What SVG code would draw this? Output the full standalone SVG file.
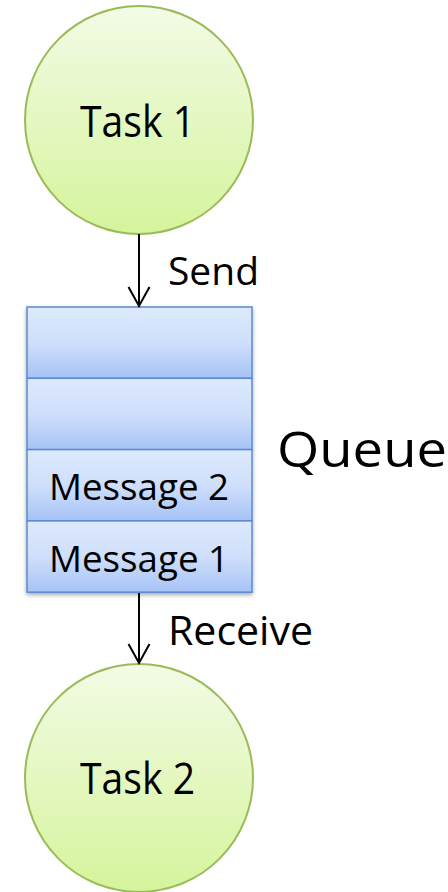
<svg xmlns="http://www.w3.org/2000/svg" width="448" height="892" viewBox="0 0 448 892">
  <defs>
    <linearGradient id="taskFill" x1="0" y1="0" x2="0" y2="1">
      <stop offset="0" stop-color="#f3fbe6"/>
      <stop offset="1" stop-color="#d5f49c"/>
    </linearGradient>
    <linearGradient id="slotFill" x1="0" y1="0" x2="0" y2="1">
      <stop offset="0" stop-color="#dde9fd"/>
      <stop offset="0.5" stop-color="#cfdffb"/>
      <stop offset="1" stop-color="#a6c3f6"/>
    </linearGradient>
    <filter id="shadow" x="-10%" y="-10%" width="120%" height="120%">
      <feGaussianBlur in="SourceAlpha" stdDeviation="2"/>
      <feOffset dx="0" dy="2" result="b"/>
      <feComponentTransfer><feFuncA type="linear" slope="0.35"/></feComponentTransfer>
      <feMerge><feMergeNode/><feMergeNode in="SourceGraphic"/></feMerge>
    </filter>
    <marker id="open" markerWidth="24" markerHeight="24" refX="21" refY="12" orient="auto" markerUnits="userSpaceOnUse">
      <path d="M2,1.5 L21,12 L2,22.5" fill="none" stroke="#000" stroke-width="2"/>
    </marker>
  </defs>
  <style>
    .task { fill: url(#taskFill); stroke: #9bbb59; stroke-width: 2; }
    .slot { fill: url(#slotFill); stroke: #5b8bd0; stroke-width: 1.5; }
    .lbl { font-family: "Open Sans", "DejaVu Sans", sans-serif; fill: #000; }
    .edge { stroke: #000; stroke-width: 2; fill: none; marker-end: url(#open); }
  </style>

  <g id="task1">
    <circle class="task" cx="139" cy="120" r="114"/>
    <text class="lbl" x="137.5" y="137" font-size="44" text-anchor="middle" textLength="115" lengthAdjust="spacingAndGlyphs">Task 1</text>
  </g>

  <g id="queue" filter="url(#shadow)">
    <rect class="slot" x="27" y="307" width="225" height="71.3"/>
    <rect class="slot" x="27" y="378.3" width="225" height="71.3"/>
    <rect class="slot" x="27" y="449.6" width="225" height="71.3"/>
    <rect class="slot" x="27" y="520.9" width="225" height="71.3"/>
  </g>
  <g id="queue-labels">
    <text class="lbl" x="139" y="500" font-size="36" text-anchor="middle" textLength="180" lengthAdjust="spacingAndGlyphs">Message 2</text>
    <text class="lbl" x="139" y="572" font-size="36" text-anchor="middle" textLength="180" lengthAdjust="spacingAndGlyphs">Message 1</text>
    <text class="lbl" x="277" y="467" font-size="50" textLength="170" lengthAdjust="spacingAndGlyphs">Queue</text>
  </g>

  <g id="task2">
    <circle class="task" cx="139" cy="778" r="114"/>
    <text class="lbl" x="137.5" y="794" font-size="44" text-anchor="middle" textLength="115" lengthAdjust="spacingAndGlyphs">Task 2</text>
  </g>

  <g id="connectors">
    <line class="edge" x1="139" y1="234" x2="139" y2="306"/>
    <text class="lbl" x="168" y="285" font-size="39" textLength="91" lengthAdjust="spacingAndGlyphs">Send</text>
    <line class="edge" x1="139" y1="593" x2="139" y2="663"/>
    <text class="lbl" x="168" y="645" font-size="40" textLength="145" lengthAdjust="spacingAndGlyphs">Receive</text>
  </g>
</svg>
